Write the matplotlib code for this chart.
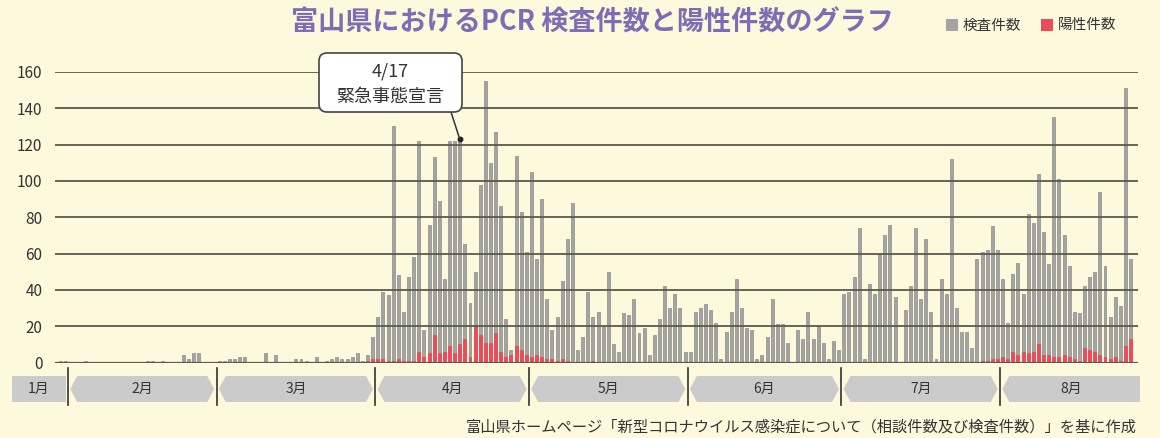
import numpy as np
import matplotlib
matplotlib.use('Agg')
import matplotlib.pyplot as plt
from matplotlib.patches import Polygon, FancyBboxPatch, Rectangle, ConnectionPatch

plt.rcParams['font.family'] = ['Noto Sans CJK JP', 'DejaVu Sans']

# ---------------- data ----------------
month_labels = ['1月', '2月', '3月', '4月', '5月', '6月', '7月', '8月']
month_days = [31, 29, 31, 30, 31, 30, 31, 31]

# PCR tests per day (Jan 30 .. Aug 26)
tests_jan = [1, 1]  # Jan 30-31
tests_feb = [0, 0, 0, 1, 0, 0, 0, 0, 0, 0, 0, 0, 0, 0, 0, 1, 1, 0, 1, 0,
             0, 0, 4, 2, 5, 5, 0, 0, 0]
tests_mar = [1, 1, 2, 2, 3, 3, 0, 0, 0, 5, 0, 4, 0, 0, 0, 2, 2, 1, 0, 3,
             0, 1, 2, 3, 2, 2, 3, 5, 1, 4, 14]
tests_apr = [25, 39, 37, 130, 48, 28, 47, 58, 122, 18, 76, 113, 89, 46, 122,
             122, 123, 65, 33, 50, 98, 155, 110, 127, 86, 24, 7, 114, 83, 61]
tests_may = [105, 57, 90, 35, 18, 25, 45, 68, 88, 7, 14, 39, 25, 28, 20, 50,
             10, 6, 27, 26, 35, 16, 19, 4, 15, 24, 42, 30, 38, 30, 6]
tests_jun = [6, 28, 30, 32, 29, 22, 2, 17, 28, 46, 30, 19, 18, 2, 4, 14, 35,
             21, 21, 11, 0, 18, 13, 28, 13, 20, 11, 2, 12, 7]
tests_jul = [38, 39, 47, 74, 2, 43, 38, 60, 70, 76, 36, 0, 29, 42, 74, 35, 68,
             28, 2, 46, 38, 112, 30, 17, 17, 8, 57, 61, 62, 75, 62]
tests_aug = [46, 22, 49, 55, 38, 82, 77, 104, 72, 54, 135, 101, 70, 53, 28,
             27, 42, 47, 50, 94, 53, 25, 36, 31, 151, 57]

# positive cases per day (Mar 30 .. Aug 26)
pos_mar = [1, 2]  # Mar 30-31
pos_apr = [2, 2, 1, 1, 2, 1, 1, 1, 6, 3, 5, 15, 5, 6, 9, 5, 10, 13, 3, 20,
           15, 11, 11, 16, 6, 3, 4, 9, 7, 4]
pos_may = [3, 4, 3, 2, 2, 1, 2, 1, 0, 0, 0, 0, 1, 0, 0, 0, 0, 0, 0, 0, 0, 0,
           0, 0, 0, 0, 0, 0, 0, 0, 0]
pos_jun = [0] * 30
pos_jul = [0] * 27 + [1, 1, 2, 2]
pos_aug = [3, 2, 6, 4, 6, 5, 6, 10, 4, 4, 3, 3, 4, 3, 2, 1, 8, 7, 6, 4, 3, 2,
           3, 1, 9, 13]

yticks = [0, 20, 40, 60, 80, 100, 120, 140, 160]
title = '富山県におけるPCR 検査件数と陽性件数のグラフ'
legend_labels = ['検査件数', '陽性件数']
note_lines = ['4/17', '緊急事態宣言']
source = '富山県ホームページ「新型コロナウイルス感染症について（相談件数及び検査件数）」を基に作成'

# ---------------- layout ----------------
W, H = 1160, 438
bg = '#fdf9dc'
gray = '#a4a4a4'
gray_edge = '#8c8c8c'
red = '#ec4b5c'
grid_c = '#5b5a4c'
text_c = '#333333'
purple = '#7c6db6'

PXD = 5.121      # pixels per day
FEB_PX = 68.0    # pixel x of Feb 1 boundary


def day(p):
    return (p - FEB_PX) / PXD


fig = plt.figure(figsize=(W / 100, H / 100), dpi=100, facecolor=bg)

ax_l, ax_r, ax_t, ax_b = 55, 1138, 72, 362.5
ax = fig.add_axes([ax_l / W, (H - ax_b) / H, (ax_r - ax_l) / W, (ax_b - ax_t) / H])
ax.set_facecolor(bg)
ax.set_xlim(day(ax_l), day(ax_r))
ax.set_ylim(0, 160)

tests = np.array(tests_jan + tests_feb + tests_mar + tests_apr + tests_may +
                 tests_jun + tests_jul + tests_aug)
pos = np.array(pos_mar + pos_apr + pos_may + pos_jun + pos_jul + pos_aug)

x_tests = np.arange(len(tests)) - len(tests_jan) + 0.5
start_pos = month_days[1] + (month_days[2] - len(pos_mar))
x_pos = np.arange(len(pos)) + start_pos + 0.5

bw = 0.58
ax.bar(x_tests, tests, width=bw, color=gray, edgecolor=gray_edge, linewidth=0.5, zorder=2)
ax.bar(x_pos, pos, width=bw, color=red, edgecolor=red, linewidth=0.6, zorder=2.5)

for t in yticks:
    ax.axhline(t, color=grid_c, lw=1.3 if t else 1.6, zorder=3)

ax.set_yticks(yticks)
ax.set_yticklabels([str(t) for t in yticks], fontsize=11, color=text_c)
ax.tick_params(axis='y', length=0, pad=9)
ax.set_xticks([])
for s in ax.spines.values():
    s.set_visible(False)

# annotation target (Apr 17)
apr17_idx = len(tests_jan) + len(tests_feb) + len(tests_mar) + 16
ax_x17, ax_y17 = x_tests[apr17_idx], tests[apr17_idx]
ax.plot([ax_x17], [ax_y17], 'o', ms=3.2, color='#222222', zorder=6, clip_on=False)

# ---------------- month band ----------------
band_l, band_r, band_t, band_b = 12, 1140, 367, 406
bax = fig.add_axes([band_l / W, (H - band_b) / H, (band_r - band_l) / W, (band_b - band_t) / H])
bax.set_xlim(day(band_l), day(band_r))
bax.set_ylim(band_b, band_t)
bax.axis('off')

bounds = np.cumsum([0] + month_days[1:]).astype(float)  # Feb1, Mar1, ... Sep1 (days)
y_top, y_bot, y_mid = 376, 402, 389
gap = 0.45
tip = 1.35
band_c = '#cbcbcb'

# 1月 block (plain rectangle)
j_l, j_r = day(12), bounds[0] - gap
bax.add_patch(Polygon([(j_l, y_top), (j_r, y_top), (j_r, y_bot), (j_l, y_bot)],
                      closed=True, fc=band_c, ec='none'))
bax.text((j_l + j_r) / 2, y_mid, month_labels[0], ha='center', va='center',
         fontsize=10, color=text_c)

for i in range(1, len(month_labels)):
    s = bounds[i - 1] + gap
    if i < len(month_labels) - 1:
        e = bounds[i] - gap
        pts = [(s, y_mid), (s + tip, y_top), (e - tip, y_top), (e, y_mid),
               (e - tip, y_bot), (s + tip, y_bot)]
    else:
        e = day(band_r)
        pts = [(s, y_mid), (s + tip, y_top), (e, y_top), (e, y_bot), (s + tip, y_bot)]
    bax.add_patch(Polygon(pts, closed=True, fc=band_c, ec='none'))
    bax.text((s + e) / 2, y_mid, month_labels[i], ha='center', va='center',
             fontsize=10, color=text_c)

for b in bounds[:-1]:
    bax.plot([b, b], [368, 405], color='#333333', lw=1.2)

# ---------------- overlay (pixel coordinates) ----------------
ov = fig.add_axes([0, 0, 1, 1], facecolor='none')
ov.set_xlim(0, W)
ov.set_ylim(H, 0)
ov.axis('off')
ov.set_zorder(10)

ov.text(592, 23, title, ha='center', va='center', fontsize=19.5, fontweight='bold',
        color=purple)

# legend
ov.add_patch(Rectangle((946, 19), 12, 12, fc=gray, ec='none'))
ov.text(963, 25.5, legend_labels[0], ha='left', va='center', fontsize=10.5, color=text_c)
ov.add_patch(Rectangle((1041, 19), 12, 12, fc=red, ec='none'))
ov.text(1058, 25.5, legend_labels[1], ha='left', va='center', fontsize=10.5, color=text_c)

# annotation box
box = FancyBboxPatch((319, 53), 143, 59, boxstyle='round,pad=0,rounding_size=8',
                     fc='white', ec='#444444', lw=1.2)
ov.add_patch(box)
ov.text(390.5, 71, note_lines[0], ha='center', va='center', fontsize=13, color=text_c)
ov.text(390.5, 97, note_lines[1], ha='center', va='center', fontsize=13, color=text_c)
con = ConnectionPatch(xyA=(451, 112), coordsA=ov.transData,
                      xyB=(ax_x17, ax_y17), coordsB=ax.transData,
                      color='#333333', lw=1.1)
fig.add_artist(con)

ov.text(1137, 427, source, ha='right', va='center', fontsize=11, color=text_c)

fig.savefig('out.png', dpi=100, facecolor=bg)
